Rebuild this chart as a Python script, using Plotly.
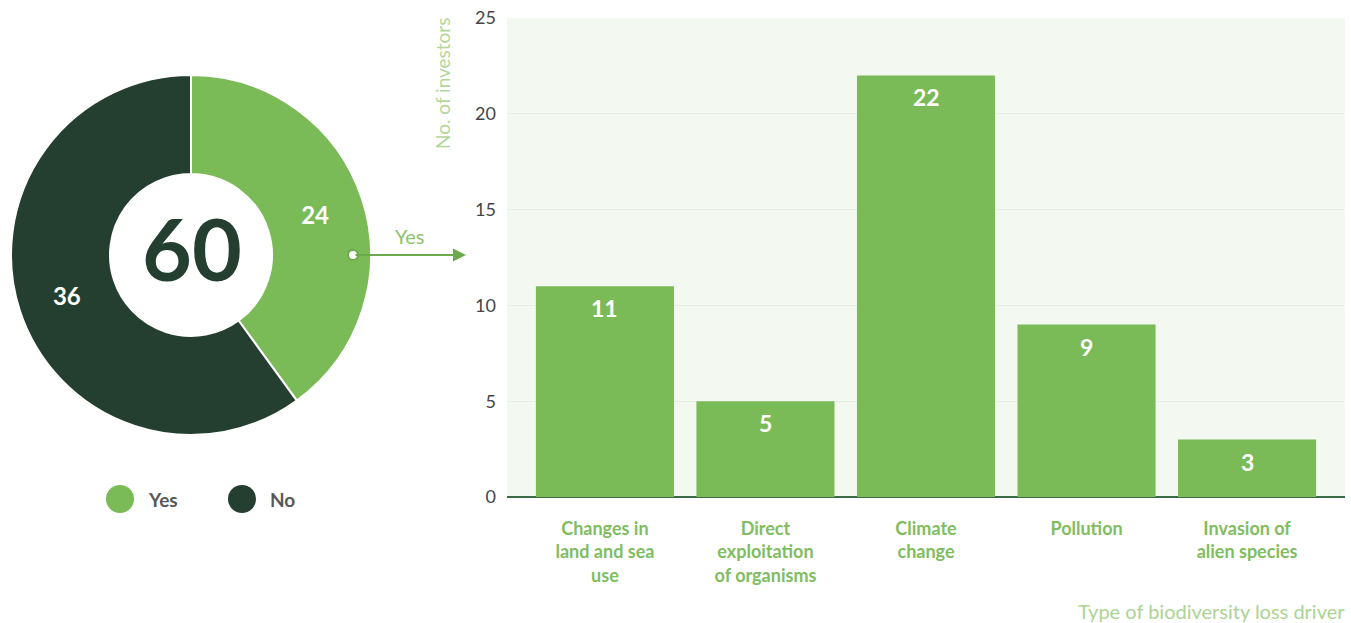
import plotly.graph_objects as go

# Survey answers (donut)
answer_labels = ["Yes", "No"]
answer_counts = [24, 36]

# Biodiversity loss drivers (bars)
driver_labels = [
    "Changes in<br>land and sea<br>use",
    "Direct<br>exploitation<br>of organisms",
    "Climate<br>change",
    "Pollution",
    "Invasion of<br>alien species",
]
driver_counts = [11, 5, 22, 9, 3]
y_ticks = [0, 5, 10, 15, 20, 25]

W, H = 1351, 623
LIGHT = "#7aba57"
DARK = "#243f30"
FONT = "Lato"


def px(x):
    return x / W


def py(y):
    return 1 - y / H


fig = go.Figure()

fig.add_trace(go.Pie(
    labels=answer_labels,
    values=answer_counts,
    hole=0.45,
    sort=False,
    direction="clockwise",
    rotation=0,
    marker=dict(colors=[LIGHT, DARK], line=dict(color="white", width=2)),
    textinfo="value",
    textposition="inside",
    insidetextorientation="horizontal",
    textfont=dict(color="white", size=24, family=FONT, weight="bold"),
    domain=dict(x=[px(11), px(371)], y=[py(435), py(75)]),
    showlegend=False,
))

bar_x = list(range(len(driver_labels)))
fig.add_trace(go.Bar(
    x=bar_x,
    y=driver_counts,
    marker=dict(color=LIGHT, line=dict(width=0)),
    width=0.86,
    showlegend=False,
))

# Value labels just below the top of each bar
for xi, val in zip(bar_x, driver_counts):
    fig.add_annotation(
        x=xi, y=val, xref="x", yref="y",
        xanchor="center", yanchor="middle", yshift=-22,
        text=str(val), showarrow=False,
        font=dict(color="white", size=23, family=FONT, weight="bold"),
    )

fig.update_layout(
    width=W, height=H,
    margin=dict(l=0, r=0, t=0, b=0, pad=0, autoexpand=False),
    paper_bgcolor="white",
    plot_bgcolor="#f3f8f0",
    font=dict(family=FONT),
    xaxis=dict(
        domain=[px(507), px(1345)],
        range=[-0.61, len(driver_labels) - 1 + 0.61],
        tickmode="array",
        tickvals=bar_x,
        ticktext=driver_labels,
        tickfont=dict(color="#80bd60", size=18, family=FONT, weight="bold"),
        showgrid=False,
        zeroline=False,
        showline=False,
        ticks="",
        ticklabelstandoff=19,
        automargin=False,
        fixedrange=True,
    ),
    yaxis=dict(
        domain=[py(497), py(18)],
        range=[0, 25],
        tickmode="array",
        tickvals=y_ticks,
        tickfont=dict(color="#454545", size=18, family=FONT),
        showgrid=True,
        gridcolor="#e6eee1",
        gridwidth=1,
        zeroline=True,
        zerolinecolor="#3b6b47",
        zerolinewidth=2,
        showline=False,
        ticks="",
        ticklabelstandoff=10,
        automargin=False,
        fixedrange=True,
    ),
)

# Total in the centre of the donut
fig.add_annotation(
    x=px(192), y=py(248), xref="paper", yref="paper",
    xanchor="center", yanchor="middle",
    text=str(sum(answer_counts)), showarrow=False,
    font=dict(size=86, color=DARK, family=FONT, weight="bold"),
)

# Arrow from the "Yes" slice to the bar chart
fig.add_annotation(
    x=px(466), y=py(255), xref="paper", yref="paper",
    ax=-112, ay=0, axref="pixel", ayref="pixel",
    text="", showarrow=True,
    arrowhead=2, arrowsize=1.3, arrowwidth=2, arrowcolor="#6aaa4c",
)
fig.add_shape(
    type="circle", xref="paper", yref="paper",
    x0=px(348), x1=px(358), y0=py(260), y1=py(250),
    fillcolor="white", line=dict(color="#6aaa4c", width=2),
)
fig.add_annotation(
    x=px(410), y=py(236), xref="paper", yref="paper",
    xanchor="center", yanchor="middle",
    text="Yes", showarrow=False,
    font=dict(size=20, color="#8cc26e", family=FONT),
)

# Legend for the donut
for cx, label, color in [(120, "Yes", LIGHT), (242, "No", DARK)]:
    fig.add_shape(
        type="circle", xref="paper", yref="paper",
        x0=px(cx - 14), x1=px(cx + 14), y0=py(513), y1=py(485),
        fillcolor=color, line=dict(width=0),
    )
    fig.add_annotation(
        x=px(cx + 26), y=py(499), xref="paper", yref="paper",
        xanchor="left", yanchor="middle", text=label, showarrow=False,
        font=dict(size=19, color="#585858", family=FONT, weight="bold"),
    )

# Axis titles
fig.add_annotation(
    x=px(442), y=py(84), xref="paper", yref="paper",
    xanchor="center", yanchor="middle",
    text="No. of investors", textangle=-90, showarrow=False,
    font=dict(size=19, color="#b2d79b", family=FONT),
)
fig.add_annotation(
    x=px(1347), y=py(611), xref="paper", yref="paper",
    xanchor="right", yanchor="middle",
    text="Type of biodiversity loss driver", showarrow=False,
    font=dict(size=20, color="#acd493", family=FONT),
)

fig.write_html("out.html")
